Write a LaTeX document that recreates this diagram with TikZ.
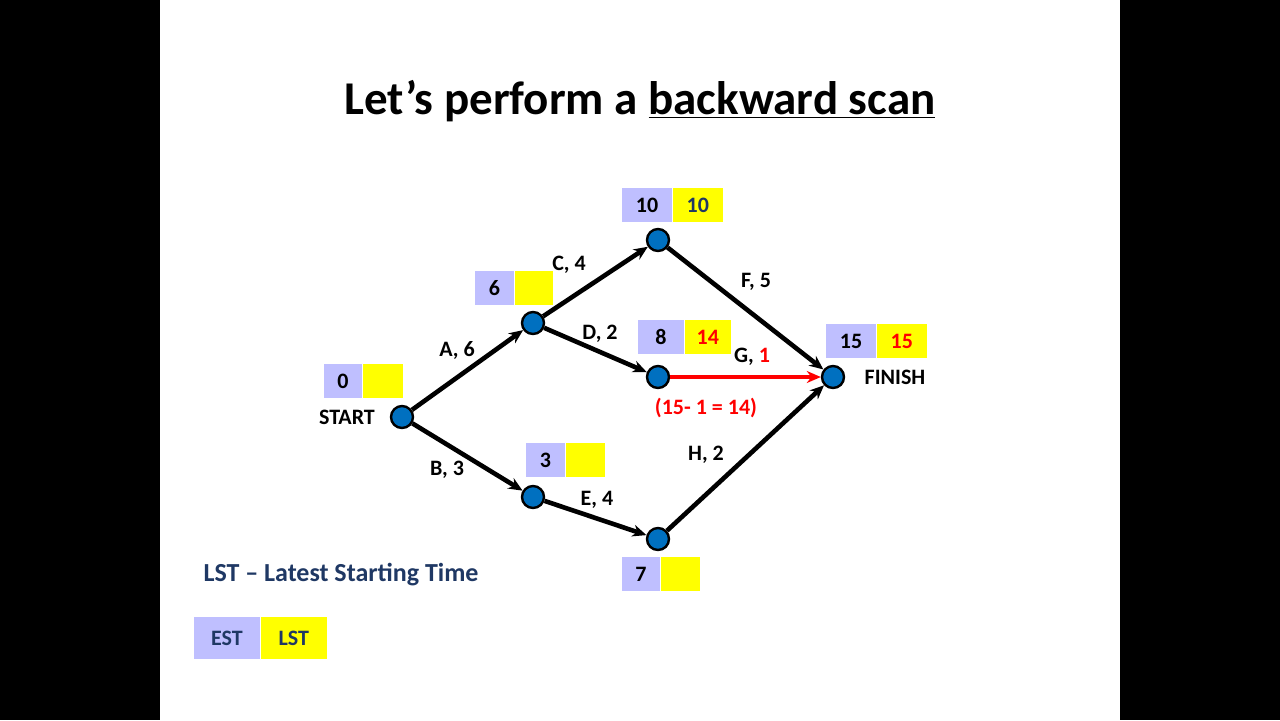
\documentclass[tikz,border=0pt]{standalone}
\usepackage{fontspec}
\setmainfont{Carlito}
\usetikzlibrary{positioning,arrows.meta}
\definecolor{estcol}{RGB}{191,191,255}
\definecolor{lstcol}{RGB}{255,255,0}
\definecolor{evcol}{RGB}{0,112,192}
\definecolor{legcol}{RGB}{31,56,100}
\begin{document}
\begin{tikzpicture}[x=0.5pt,y=-0.5pt,
                event/.style={circle, fill=evcol, draw=black, line width=1.2pt, minimum size=11pt, inner sep=0pt},
                estbox/.style={rectangle, fill=estcol, minimum height=17pt, inner sep=0pt, font=\bfseries\fontsize{11}{13}\selectfont},
                lstbox/.style={rectangle, fill=lstcol, minimum height=17pt, inner sep=0pt, font=\bfseries\fontsize{11}{13}\selectfont},
                act/.style={-{Stealth[length=7pt,width=6pt]}, line width=2.3pt},
                lbl/.style={font=\bfseries\fontsize{11}{13}\selectfont},
            ]

            % slide
            \fill[black] (0,0) rectangle (1280,720);
            \fill[white] (160,0) rectangle (1120,720);
            \useasboundingbox (0,0) rectangle (1280,720);

            \node[font=\bfseries\fontsize{23.5}{28}\selectfont] (title) at (640,101) {Let’s perform a \underline{backward scan}};

            % events
            \node[event] (start) at (402,417) {};
            \node[event] (e1) at (533,323) {};
            \node[event] (e2) at (658,240) {};
            \node[event] (e3) at (658,377) {};
            \node[event] (e4) at (533,497) {};
            \node[event] (e5) at (658,539) {};
            \node[event] (finish) at (833,377) {};

            % EST / LST boxes
            \node[estbox, minimum width=19pt] (est0) at (343,381) {0};
            \node[lstbox, minimum width=20pt, right=0pt of est0] (lst0) {};
            \node[estbox, minimum width=19.5pt] (est1) at (494.5,288) {6};
            \node[lstbox, minimum width=19pt, right=0pt of est1] (lst1) {};
            \node[estbox, minimum width=25pt] (est2) at (647,205) {10};
            \node[lstbox, minimum width=25pt, right=0pt of est2, text=legcol] (lst2) {10};
            \node[estbox, minimum width=23pt] (est3) at (661,337) {8};
            \node[lstbox, minimum width=23pt, right=0pt of est3, text=red] (lst3) {14};
            \node[estbox, minimum width=19.5pt] (est4) at (545.5,460) {3};
            \node[lstbox, minimum width=19.5pt, right=0pt of est4] (lst4) {};
            \node[estbox, minimum width=19pt] (est5) at (641,574) {7};
            \node[lstbox, minimum width=19.5pt, right=0pt of est5] (lst5) {};
            \node[estbox, minimum width=25pt] (est6) at (851,341) {15};
            \node[lstbox, minimum width=25pt, right=0pt of est6, text=red] (lst6) {15};

            % activities
            \draw[act] (start) -- (e1);
            \draw[act] (start) -- (e4);
            \draw[act] (e1) -- (e2);
            \draw[act] (e1) -- (e3);
            \draw[act] (e2) -- (finish);
            \draw[act, red] (e3) -- (finish);
            \draw[act] (e4) -- (e5);
            \draw[act] (e5) -- (finish);

            \node[lbl] (la) at (457,350) {A, 6};
            \node[lbl] (lb) at (447,470) {B, 3};
            \node[lbl] (lc) at (569,265) {C, 4};
            \node[lbl] (ld) at (600,334) {D, 2};
            \node[lbl] (le) at (597,500) {E, 4};
            \node[lbl] (lf) at (756,282) {F, 5};
            \node[lbl] (lg) at (752,357) {G, \textcolor{red}{1}};
            \node[lbl] (lh) at (706,455) {H, 2};
            \node[lbl, text=red] (calc) at (706,408) {(15- 1 = 14)};
            \node[lbl] (lstart) at (347,417) {START};
            \node[lbl] (lfinish) at (895,377) {FINISH};

            % legend
            \node[font=\bfseries\fontsize{13}{15}\selectfont, text=legcol] (legend) at (341,575) {LST – Latest Starting Time};
            \node[estbox, minimum width=33pt, minimum height=21pt, text=legcol] (estkey) at (227,638) {EST\hspace{6pt}};
            \node[lstbox, minimum width=33pt, minimum height=21pt, text=legcol, right=0pt of estkey] (lstkey) {LST\hspace{10pt}};
        \end{tikzpicture}
\end{document}
